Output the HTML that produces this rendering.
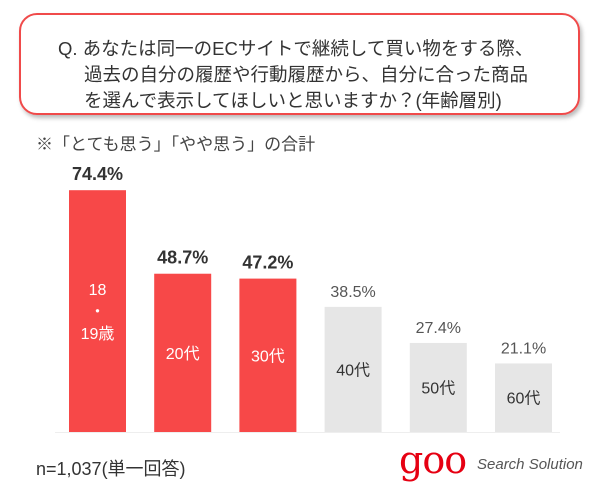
<!DOCTYPE html>
<html><head><meta charset="utf-8"><style>
body{margin:0;width:600px;height:499px;background:#fff;font-family:"Liberation Sans","Noto Sans CJK JP",sans-serif;position:relative;overflow:hidden}
#q{position:absolute;left:19px;top:13px;width:561px;height:102px;border:2px solid #f04a4a;border-radius:18px;box-shadow:2px 3px 4px #bbb;box-sizing:border-box}
#q div{position:absolute;font-size:18.5px;color:#333;white-space:nowrap}
.t{position:absolute;white-space:nowrap}
</style></head><body>
<div id="q">
<div style="left:37px;top:20px">Q. あなたは同一のECサイトで継続して買い物をする際、</div>
<div style="left:63px;top:46px">過去の自分の履歴や行動履歴から、自分に合った商品</div>
<div style="left:63px;top:72px">を選んで表示してほしいと思いますか？(年齢層別)</div>
</div>
<div class="t" style="left:36px;top:130px;font-size:17px;color:#444">※「とても思う」「やや思う」の合計</div>
<svg id="c" width="600" height="499" style="position:absolute;left:0;top:0"></svg>
<div class="t" style="left:36px;top:455px;font-size:18px;color:#333">n=1,037(単一回答)</div>
<div class="t" style="left:399px;top:440px;font-size:38px;color:#e60012;font-family:'DejaVu Serif',serif;letter-spacing:-1px;line-height:40px">goo</div>
<div class="t" style="left:477px;top:456px;font-size:15px;color:#555;font-style:italic">Search Solution</div>
<script>
const categories=["18\n・\n19歳","20代","30代","40代","50代","60代"];
const values=[74.4,48.7,47.2,38.5,27.4,21.1];
const highlight=[true,true,true,false,false,false];
const ns="http://www.w3.org/2000/svg",svg=document.getElementById('c');
const base=432,scale=3.25,x0=69,step=85.2,bw=57;
const y=v=>base-v*scale, x=i=>x0+i*step;
function el(t,a){const e=document.createElementNS(ns,t);for(const k in a)e.setAttribute(k,a[k]);svg.appendChild(e);return e;}
const ax=el('line',{x1:55,x2:560,y1:base+0.5,y2:base+0.5,stroke:'#eee'});

values.forEach((v,i)=>{
 const r=el('rect',{x:x(i),y:y(v),width:bw,height:v*scale,fill:highlight[i]?'#f74848':'#e6e6e6'});
 
 const l=el('text',{x:x(i)+bw/2,y:y(v)-10,'text-anchor':'middle','font-size':highlight[i]?18:16,'font-weight':highlight[i]?'bold':'normal',fill:highlight[i]?'#333':'#555'});
 l.textContent=v.toFixed(1)+'%';
 
 const lines=categories[i].split('\n');
 const cy=(y(v)+base)/2, lh=22;
 lines.forEach((s,j)=>{
  const t=el('text',{x:x(i)+bw/2,y:cy+(j-(lines.length-1)/2)*lh+6,'text-anchor':'middle','font-size':16,fill:highlight[i]?'#fff':'#333'});
  t.textContent=s;
  
 });
});
</script>
</body></html>
